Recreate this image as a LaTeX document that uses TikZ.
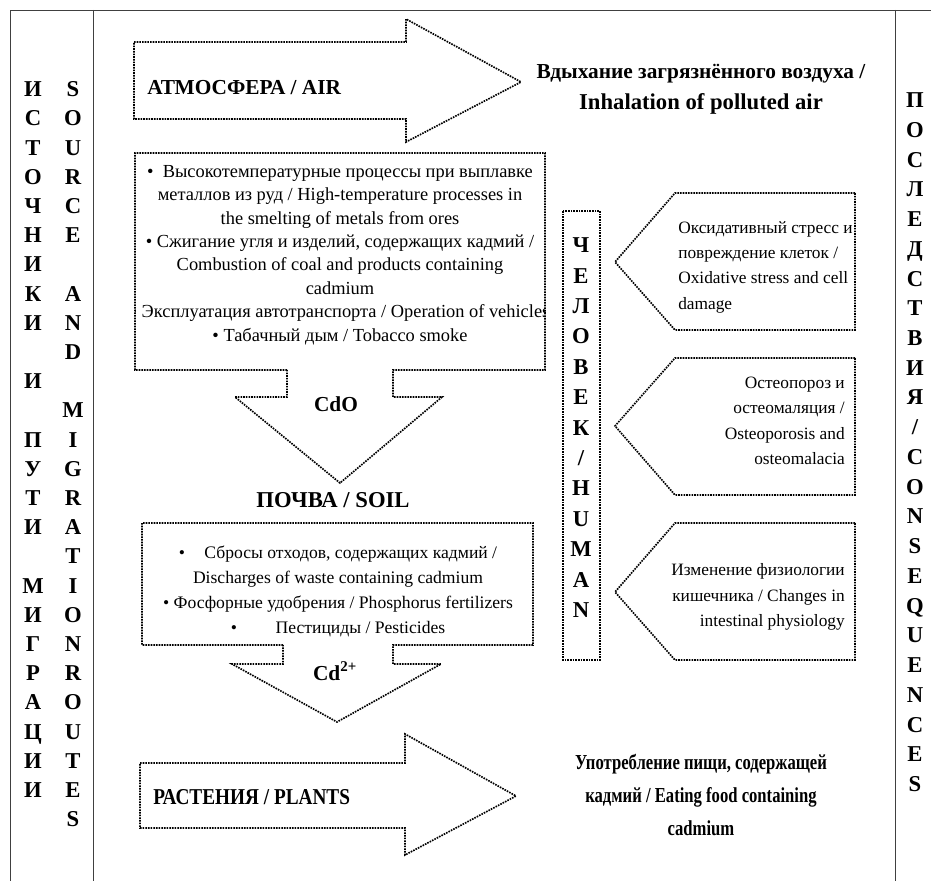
\documentclass[tikz,border=0pt]{standalone}
\usepackage{fontspec}
\setmainfont{Liberation Serif}
\newfontfamily\condfont[FakeStretch=0.85]{Liberation Serif}
\newfontfamily\condfontn[FakeStretch=0.78]{Liberation Serif}

\begin{document}
\begin{tikzpicture}[x=0.75pt, y=-0.75pt,
  dotbord/.style={line width=1.25pt, dash pattern=on 1.2pt off 0.8pt},
  frameline/.style={line width=0.7pt, black!75},
  colletter/.style={font=\bfseries\fontsize{17}{21.9}\selectfont, align=center, inner sep=0pt, anchor=north},
  headtext/.style={font=\bfseries\fontsize{16}{23}\selectfont, align=center, inner sep=0pt},
  condtext/.style={font=\condfontn\bfseries\fontsize{16}{24.4}\selectfont, align=center, inner sep=0pt},
  bodytext/.style={font=\fontsize{13.8}{17.6}\selectfont, align=center, inner sep=0pt},
  conseqtext/.style={font=\fontsize{13}{19}\selectfont, inner sep=0pt}]
  \useasboundingbox (0,0) rectangle (931,881);
  % Frame
  \draw[frameline] (10,881) -- (10,10) -- (931,10);
  \draw[frameline] (93,10) -- (93,881);
  \draw[frameline] (895,10) -- (895,881);
  % Side columns
  \node[colletter] (srcru) at (33,81.5) {И\\С\\Т\\О\\Ч\\Н\\И\\К\\И\\[21.9pt]И\\[21.9pt]П\\У\\Т\\И\\[21.9pt]М\\И\\Г\\Р\\А\\Ц\\И\\И};
  \node[colletter] (srcen) at (73,81.5) {S\\O\\U\\R\\C\\E\\[21.9pt]A\\N\\D\\[21.9pt]M\\I\\G\\R\\A\\T\\I\\O\\N\\R\\O\\U\\T\\E\\S};
  \node[colletter, font=\bfseries\fontsize{17}{22.3}\selectfont] (conseq) at (915,92.5) {П\\О\\С\\Л\\Е\\Д\\С\\Т\\В\\И\\Я\\/\\C\\O\\N\\S\\E\\Q\\U\\E\\N\\C\\E\\S};
  % Air
  \draw[dotbord] (134,42) -- (406,42) -- (406,19) -- (521,82) -- (406,142) -- (406,119) -- (134,119) -- cycle;
  \node[headtext, anchor=west] (air) at (147,88) {АТМОСФЕРА / AIR};
  \node[headtext] (inhal) at (701,89) {Вдыхание загрязнённого воздуха /\\{\fontsize{17}{23}\selectfont Inhalation of polluted air}};
  % Sources in the air
  \begin{scope}
    \clip (135,153) rectangle (545,370);
    \node[bodytext] (airsrc) at (340,255) {•\enspace Высокотемпературные процессы при выплавке\\металлов из руд / High-temperature processes in\\the smelting of metals from ores\\• Сжигание угля и изделий, содержащих кадмий /\\Combustion of coal and products containing\\cadmium\\• Эксплуатация автотранспорта / Operation of vehicles\\• Табачный дым / Tobacco smoke};
  \end{scope}
  \draw[dotbord] (287,370) -- (135,370) -- (135,153) -- (545,153) -- (545,370) -- (393,370)
    -- (393,397) -- (442,397) -- (340,483) -- (235,397) -- (287,397) -- cycle;
  \node[headtext] (cdo) at (336,404) {CdO};
  % Soil
  \node[headtext, font=\bfseries\fontsize{17}{23}\selectfont] (soil) at (333,500) {ПОЧВА / SOIL};
  \node[bodytext, font=\fontsize{13.2}{18.75}\selectfont] (soilsrc) at (338,591) {•\hspace{1.1em}Сбросы отходов, содержащих кадмий /\\Discharges of waste containing cadmium\\• Фосфорные удобрения / Phosphorus fertilizers\\•\hspace{2.2em}Пестициды / Pesticides};
  \draw[dotbord] (283,645) -- (142,645) -- (142,523) -- (533,523) -- (533,645) -- (393,645)
    -- (393,664) -- (441,664) -- (337,722) -- (232,664) -- (283,664) -- cycle;
  \node[headtext] (cdion) at (335,671) {Cd\textsuperscript{2+}};
  % Plants
  \draw[dotbord] (140,763) -- (405,763) -- (405,734) -- (516,796) -- (405,855) -- (405,828) -- (140,828) -- cycle;
  \node[condtext, font=\condfont\bfseries\fontsize{17}{24}\selectfont, anchor=west] (plants) at (153,797) {РАСТЕНИЯ / PLANTS};
  \node[condtext] (food) at (701,795) {Употребление пищи, содержащей\\кадмий / Eating food containing\\cadmium};
  % Human
  \draw[dotbord] (563,211) rectangle (600,660);
  \node[colletter, font=\bfseries\fontsize{17}{22.8}\selectfont] (human) at (581,237.5) {Ч\\Е\\Л\\О\\В\\Е\\К\\/\\H\\U\\M\\A\\N};
  % Consequences
  \draw[dotbord] (855,193) -- (675,193) -- (615,262) -- (675,330) -- (855,330) -- cycle;
  \node[conseqtext, align=left, anchor=west] (stress) at (678,267) {Оксидативный стресс и\\повреждение клеток /\\Oxidative stress and cell\\damage};
  \draw[dotbord] (855,358) -- (675,358) -- (615,426) -- (675,495) -- (855,495) -- cycle;
  \node[conseqtext, align=right, anchor=east] (bone) at (845,421) {Остеопороз и\\остеомаляция /\\Osteoporosis and\\osteomalacia};
  \draw[dotbord] (855,523) -- (675,523) -- (615,592) -- (675,660) -- (855,660) -- cycle;
  \node[conseqtext, align=right, anchor=east] (gut) at (845,597) {Изменение физиологии\\кишечника / Changes in\\intestinal physiology};
\end{tikzpicture}
\end{document}
